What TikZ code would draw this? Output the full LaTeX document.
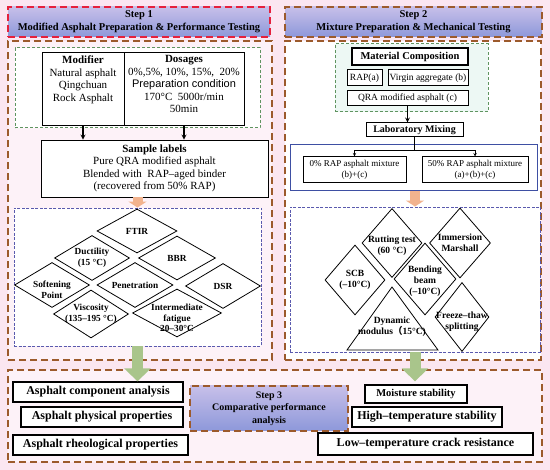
\documentclass[tikz,border=0pt]{standalone}
\usepackage{fontspec}
\setmainfont{Liberation Serif}
\newfontfamily\sansf{Liberation Sans}
\newfontfamily\cjk{Noto Sans CJK SC}
\usetikzlibrary{arrows}
\usetikzlibrary{arrows.meta}
\usetikzlibrary{shapes.geometric}
\usetikzlibrary{positioning}

\definecolor{bgpink}{HTML}{FBE6F1}
\definecolor{lightpink}{HTML}{FDF2F8}
\definecolor{mint}{HTML}{EDF8F4}
\definecolor{brownd}{HTML}{9C5A2C}
\definecolor{redd}{HTML}{E5203C}
\definecolor{greend}{HTML}{5F9460}
\definecolor{blued}{HTML}{5A5AAE}
\definecolor{bluel}{HTML}{3E4FA3}
\definecolor{hdtop}{HTML}{C7BFE9}
\definecolor{hdbot}{HTML}{8D98DA}
\definecolor{peachc}{HTML}{F2B38E}
\definecolor{olivec}{HTML}{A9C58B}

\begin{document}
\begin{tikzpicture}[
  x=1pt,
  y=-1pt,
  every node/.style={font=\fontsize{11}{12.5}\selectfont},
  frame/.style={draw=brownd, dash pattern=on 7pt off 4pt, line width=1.3pt},
  header/.style={frame, top color=hdtop, bottom color=hdbot, align=center,
    font=\fontsize{10.5}{13}\selectfont\bfseries},
  grbox/.style={draw=greend, dash pattern=on 3pt off 2pt, line width=1pt},
  bldash/.style={draw=blued, dash pattern=on 3pt off 1.5pt, line width=0.9pt, fill=white},
  box/.style={draw, line width=0.8pt, fill=white, inner sep=0pt, align=center},
  smallbox/.style={box, line width=1pt, font=\fontsize{9.5}{11}\selectfont},
  resbox/.style={box, line width=1.3pt, font=\fontsize{12}{13}\selectfont\bfseries},
  txt/.style={align=center, inner sep=1pt},
  dia/.style={diamond, draw, line width=0.8pt, inner sep=0pt},
  diatxt/.style={align=center, inner sep=0pt, font=\fontsize{9.3}{10.5}\selectfont\bfseries},
  diatxtb/.style={diatxt, font=\fontsize{9.5}{11}\selectfont\bfseries},
  flow/.style={-stealth, line width=1.2pt},
  thin/.style={-stealth, line width=0.6pt},
  peach/.style={draw=peachc, line width=10pt, -{Triangle[width=18pt,length=6pt]}},
  fat/.style={draw=olivec, line width=11pt, -{Triangle[width=26pt,length=13pt]}}
]

\fill[bgpink] (0,0) rectangle (550,470);
\useasboundingbox (0,0) rectangle (550,470);

% Step 1
\node[header, draw=redd, minimum width=262pt, minimum height=30pt] (head1) at (139,22)
  {Step 1\\Modified Asphalt Preparation \& Performance Testing};
\node[frame, fill=lightpink, minimum width=264pt, minimum height=319pt] (frame1) at (140,200.5) {};
\node[grbox, fill=white, minimum width=245pt, minimum height=80pt] (green1) at (137.5,88) {};

\node[box, minimum width=82pt, minimum height=73pt] (modif) at (83,88.5) {};
\node[box, minimum width=120pt, minimum height=73pt] (dosage) at (184,88.5) {};
\node[txt, below=3pt of modif.north] (modift) {\textbf{Modifier}\\Natural asphalt\\Qingchuan\\Rock Asphalt};
\node[txt, below=3pt of dosage.north] (dosaget) {\textbf{Dosages}\\0\%,5\%, 10\%, 15\%,\ \ 20\%\\
  {\sansf Preparation condition}\\170°C\ \ 5000r/min\\50min};

\node[box, minimum width=227pt, minimum height=57pt] (sample) at (154.5,168.5)
  {\textbf{Sample labels}\\Pure QRA modified asphalt\\Blended with\ \ RAP–aged binder\\(recovered from 50\% RAP)};

\draw[flow] (modif.south) -- (modif.south |- sample.north);
\draw[flow] (dosage.south) -- (dosage.south |- sample.north);

\node[bldash, minimum width=247pt, minimum height=138pt] (tests1) at (137.5,277) {};
\draw[peach] (tests1.north |- sample.south) -- (tests1.north);

\node[dia, minimum width=80pt, minimum height=44pt] (ftir) at (137,231) {};
\node[dia, minimum width=75pt, minimum height=45pt] (duct) at (92,258) {};
\node[dia, minimum width=77pt, minimum height=44pt] (bbr) at (177,258) {};
\node[dia, minimum width=75pt, minimum height=45pt] (soft) at (52,285) {};
\node[dia, minimum width=76pt, minimum height=45pt] (pene) at (135,285) {};
\node[dia, minimum width=75pt, minimum height=45pt] (dsr) at (223,286) {};
\node[dia, minimum width=75pt, minimum height=48pt] (visc) at (91,314) {};
\node[dia, minimum width=89pt, minimum height=48pt] (fati) at (177,313) {};

\node[diatxt] (ftirt) at (ftir) {FTIR};
\node[diatxt] (ductt) at (duct) {Ductility\\(15 °C)};
\node[diatxt] (bbrt) at (bbr) {BBR};
\node[diatxt] (softt) at (52,290) {Softening\\Point};
\node[diatxt] (penet) at (pene) {Penetration};
\node[diatxt] (dsrt) at (dsr) {DSR};
\node[diatxt] (visct) at (visc) {Viscosity\\(135–195 °C)};
\node[diatxt] (fatit) at (177,318) {Intermediate\\fatigue\\20–30°C};

% Step 2
\node[header, minimum width=257pt, minimum height=30pt] (head2) at (413.5,22)
  {Step 2\\Mixture Preparation \& Mechanical Testing};
\node[frame, fill=white, minimum width=256pt, minimum height=319pt] (frame2) at (413,200.5) {};
\node[grbox, fill=mint, minimum width=153pt, minimum height=68pt] (green2) at (411.5,78) {};

\node[box, line width=1.3pt, minimum width=116pt, minimum height=17pt,
  font=\fontsize{10.5}{12}\selectfont\bfseries] (matcomp) at (410,56.5) {Material Composition};
\node[smallbox, minimum width=35pt, minimum height=16pt] (rap) at (364.5,78) {RAP(a)};
\node[smallbox, minimum width=80pt, minimum height=16pt] (virgin) at (428,78) {Virgin aggregate (b)};
\node[smallbox, minimum width=121pt, minimum height=15pt] (qra) at (407.5,98.5) {QRA modified asphalt (c)};

\node[box, line width=1pt, minimum width=97pt, minimum height=14pt,
  font=\fontsize{10}{11}\selectfont\bfseries] (labmix) at (414.5,130) {Laboratory Mixing};
\draw[flow] (qra.south) -- (qra.south |- labmix.north);

\node[draw=bluel, line width=1pt, fill=white, minimum width=247pt, minimum height=46pt] (mixes) at (413.5,168) {};
\node[smallbox, minimum width=103pt, minimum height=26pt, font=\fontsize{9}{11}\selectfont] (mix0) at (354.5,170)
  {0\% RAP asphalt mixture\\(b)+(c)};
\node[smallbox, minimum width=106pt, minimum height=26pt, font=\fontsize{9}{11}\selectfont] (mix50) at (475,170)
  {50\% RAP asphalt mixture\\(a)+(b)+(c)};
\coordinate (split) at (414.5,150);
\draw[line width=0.6pt] (labmix.south) -- (split);
\draw[thin] (split) -| (mix0.north);
\draw[thin] (split) -| (mix50.north);

\node[bldash, minimum width=250pt, minimum height=145pt] (tests2) at (415,279.5) {};
\draw[peach] (tests2.north |- mixes.south) -- (tests2.north);

\node[dia, minimum width=60pt, minimum height=69pt] (rut) at (392,243) {};
\node[dia, minimum width=61pt, minimum height=70pt] (imm) at (460,243) {};
\node[dia, minimum width=60pt, minimum height=70pt] (scb) at (355,280) {};
\node[dia, minimum width=62pt, minimum height=72pt] (bend) at (425,279) {};
\node[dia, minimum width=54pt, minimum height=69pt] (frz) at (462,317) {};
\draw[line width=0.8pt] (392,287) -- (347,350) -- (438,350) -- cycle;

\node[diatxtb] (rutt) at (392,245.5) {Rutting test\\(60 °C)};
\node[diatxtb] (immt) at (imm) {Immersion\\Marshall};
\node[diatxtb] (scbt) at (scb) {SCB\\(–10°C)};
\node[diatxtb] (bendt) at (425,281) {Bending\\beam\\(–10°C)};
\node[diatxtb] (frzt) at (462,322) {Freeze–thaw\\splitting};
\node[diatxtb] (dynt) at (392,327) {Dynamic\\modulus{\cjk （}15°C)};

% Step 3
\node[frame, fill=lightpink, minimum width=534pt, minimum height=92pt] (frame3) at (275,416) {};
\node[resbox, minimum width=170pt, minimum height=20pt] (comp) at (98,392) {Asphalt component analysis};
\node[resbox, minimum width=162pt, minimum height=20pt] (phys) at (102,417) {Asphalt physical properties};
\node[resbox, minimum width=175pt, minimum height=20pt] (rheo) at (100.5,445) {Asphalt rheological properties};
\node[header, minimum width=158pt, minimum height=45pt, font=\fontsize{10}{12.5}\selectfont\bfseries]
  (head3) at (269,408.5) {Step 3\\Comparative performance\\analysis};
\node[resbox, minimum width=102pt, minimum height=18pt, font=\fontsize{10.5}{12}\selectfont\bfseries]
  (moist) at (416,394) {Moisture stability};
\node[resbox, minimum width=150pt, minimum height=20pt] (hight) at (427,417) {High–temperature stability};
\node[resbox, minimum width=215pt, minimum height=22pt] (lowt) at (425.5,444) {Low–temperature crack resistance};

\draw[fat] (tests1.south) -- (tests1.south |- comp.north);
\draw[fat] (tests2.south) -- (tests2.south |- comp.north);

\end{tikzpicture}
\end{document}
